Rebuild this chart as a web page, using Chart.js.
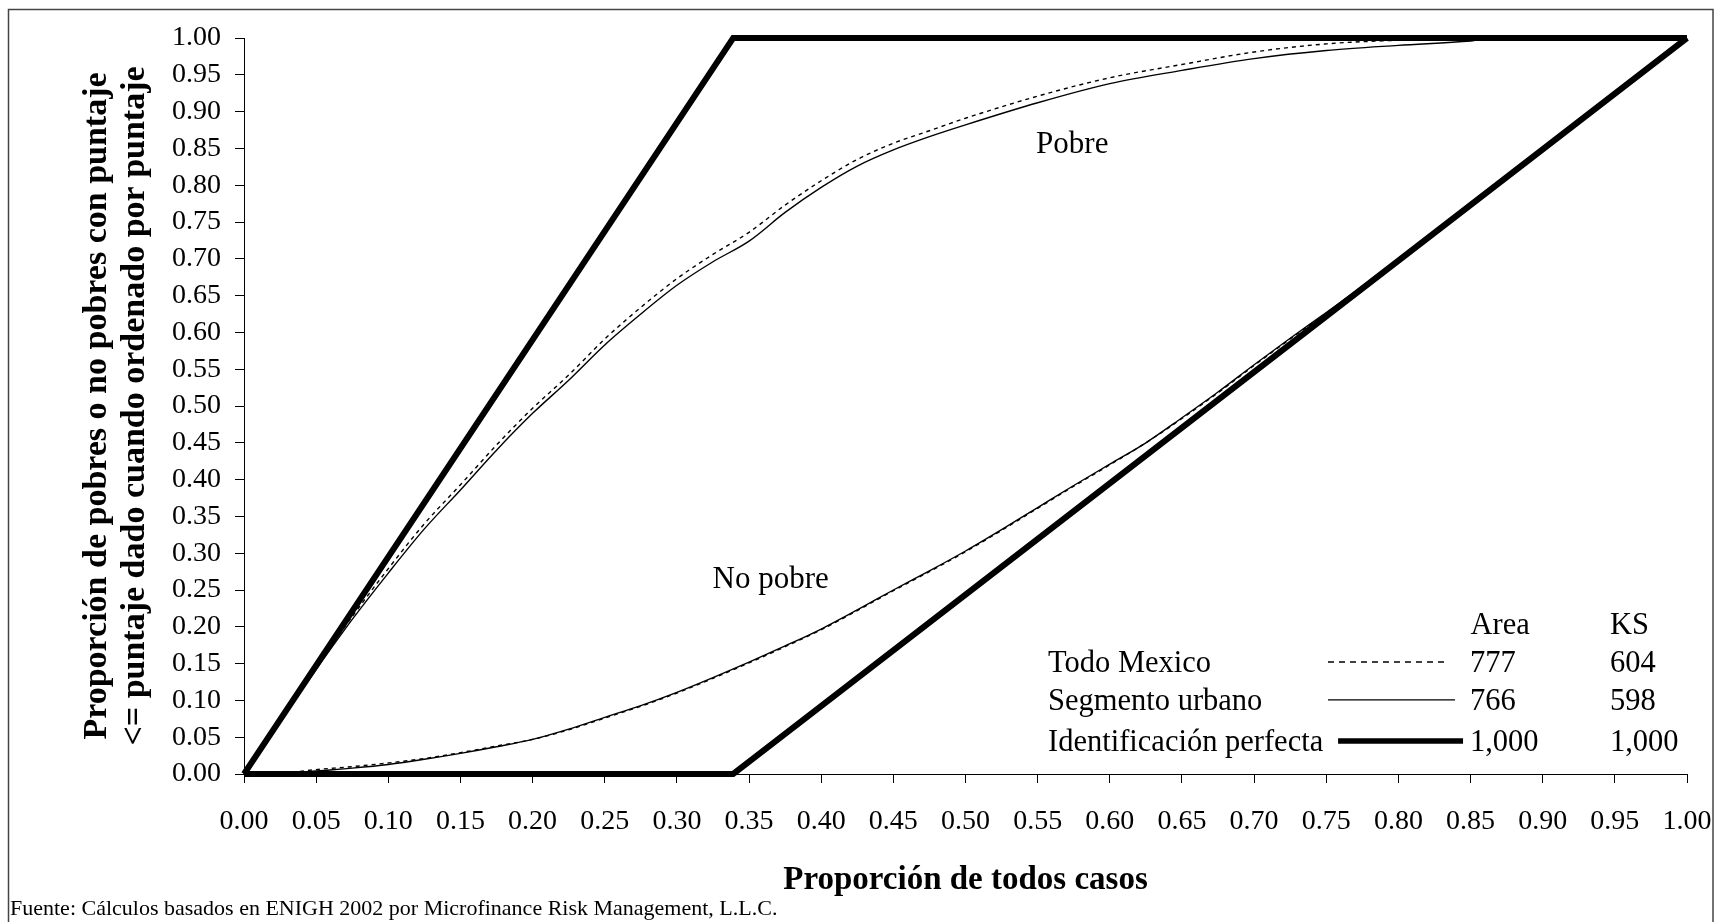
<!DOCTYPE html>
<html lang="es">

<head>
    <meta charset="UTF-8" />
    <title>Proporción de todos casos</title>
    <script src="https://cdn.jsdelivr.net/npm/chart.js@4.4.1/dist/chart.umd.min.js"></script>
    <style>
        html, body { margin: 0; padding: 0; background: #fff; overflow: hidden; }
        canvas { display: block; }
    </style>
</head>

<body>

    <canvas id="chart" width="1715" height="922"></canvas>

    <script>
        // curves
        const xPobre = [0, 0.02, 0.05, 0.075, 0.10, 0.125, 0.15, 0.175, 0.20, 0.225, 0.25, 0.275, 0.30, 0.325, 0.35, 0.375,
            0.40, 0.425, 0.45, 0.475, 0.50, 0.55, 0.60, 0.65, 0.70, 0.75, 0.80, 0.85, 0.87, 0.90, 0.95, 1.0];
        const pobreUrbano = [0, 0.057, 0.142, 0.21, 0.273, 0.333, 0.386, 0.44, 0.49, 0.535, 0.583, 0.625, 0.664, 0.696, 0.724, 0.763,
            0.797, 0.826, 0.848, 0.866, 0.882, 0.912, 0.938, 0.956, 0.972, 0.983, 0.99, 0.996, 1.0, 1.0, 1.0, 1.0];
        const pobreTodo = [0, 0.058, 0.145, 0.214, 0.279, 0.34, 0.393, 0.447, 0.497, 0.542, 0.591, 0.634, 0.673, 0.706, 0.736, 0.773,
            0.806, 0.835, 0.857, 0.874, 0.891, 0.921, 0.946, 0.964, 0.981, 0.992, 0.997, 1.0, 1.0, 1.0, 1.0, 1.0];

        const xNoPobre = [0, 0.03, 0.05, 0.075, 0.10, 0.125, 0.15, 0.175, 0.20, 0.225, 0.25, 0.275, 0.30, 0.325, 0.35, 0.375,
            0.40, 0.425, 0.45, 0.475, 0.50, 0.525, 0.55, 0.575, 0.60, 0.625, 0.65, 0.675, 0.70, 0.725, 0.75, 0.80, 0.85, 0.90, 0.95, 1.0];
        const noPobreUrbano = [0, 0.001, 0.004, 0.008, 0.013, 0.02, 0.028, 0.037, 0.047, 0.061, 0.077, 0.093, 0.111, 0.131, 0.152, 0.174,
            0.197, 0.223, 0.25, 0.276, 0.303, 0.332, 0.362, 0.392, 0.421, 0.45, 0.484, 0.519, 0.556, 0.592, 0.627, 0.699, 0.774, 0.849, 0.925, 1.0];
        const noPobreTodo = [0, 0.002, 0.006, 0.01, 0.015, 0.021, 0.029, 0.038, 0.047, 0.06, 0.076, 0.092, 0.11, 0.13, 0.151, 0.173,
            0.196, 0.222, 0.249, 0.275, 0.302, 0.331, 0.361, 0.391, 0.42, 0.45, 0.483, 0.518, 0.555, 0.591, 0.626, 0.699, 0.774, 0.849, 0.925, 1.0];

        // perfect identification
        const xPerfecto = [0, 0.339, 1];
        const perfectoPobre = [0, 1, 1];
        const perfectoNoPobre = [0, 0, 1];

        // legend table
        const legendLabels = ['Todo Mexico', 'Segmento urbano', 'Identificación perfecta'];
        const areaValues = ['777', '766', '1,000'];
        const ksValues = ['604', '598', '1,000'];

        const SERIF = '"Liberation Serif", "Times New Roman", serif';
        const footerText = 'Fuente: Cálculos basados en ENIGH 2002 por Microfinance Risk Management, L.L.C.';

        function pts(xs, ys) {
            return xs.map((x, i) => ({ x: x, y: ys[i] }));
        }

        function thin(label, xs, ys, dash) {
            return {
                label: label,
                data: pts(xs, ys),
                borderColor: '#000',
                borderWidth: 1.4,
                borderDash: dash,
                pointRadius: 0,
                cubicInterpolationMode: 'monotone',
                fill: false,
                clip: false
            };
        }

        function thick(xs, ys) {
            return {
                label: 'Identificación perfecta',
                data: pts(xs, ys),
                borderColor: '#000',
                borderWidth: 6,
                pointRadius: 0,
                tension: 0,
                fill: false,
                clip: false
            };
        }

        // the scales add label overflow + tick padding on their own; the layout padding does it instead
        function noOverflow(scale) {
            scale.paddingLeft = 0;
            scale.paddingRight = 0;
            scale.paddingTop = 0;
            scale.paddingBottom = 0;
        }

        const framePlugin = {
            id: 'frame',
            beforeDraw(chart) {
                const ctx = chart.ctx;
                ctx.save();
                ctx.fillStyle = '#fff';
                ctx.fillRect(0, 0, chart.width, chart.height);
                ctx.strokeStyle = '#444';
                ctx.lineWidth = 1.5;
                ctx.strokeRect(8.5, 9.5, chart.width - 10.5, chart.height + 20);
                ctx.restore();
            }
        };

        const textPlugin = {
            id: 'texts',
            afterDraw(chart) {
                const ctx = chart.ctx;
                const xs = chart.scales.x, ys = chart.scales.y;
                const px = v => xs.getPixelForValue(v);
                const py = v => ys.getPixelForValue(v);
                ctx.save();
                ctx.fillStyle = '#000';
                ctx.textBaseline = 'middle';
                ctx.font = '31px ' + SERIF;

                // curve names
                ctx.textAlign = 'center';
                ctx.fillText('Pobre', px(0.574), py(0.855));
                ctx.fillText('No pobre', px(0.365), py(0.264));

                // legend table
                ctx.font = '30.5px ' + SERIF;
                ctx.textAlign = 'left';
                ctx.fillText('Area', px(0.85), py(0.201));
                ctx.fillText('KS', px(0.9466), py(0.201));
                const rowY = [0.1495, 0.098, 0.042];
                const lineSpan = [[0.7512, 0.8344], [0.7512, 0.8392], [0.7582, 0.8448]];
                const lineW = [1.4, 1.4, 5.5];
                const lineDash = [[6, 5], [], []];
                legendLabels.forEach((name, i) => {
                    const y = py(rowY[i]);
                    ctx.fillText(name, px(0.5572), y);
                    ctx.fillText(areaValues[i], px(0.8496), y);
                    ctx.fillText(ksValues[i], px(0.9466), y);
                    ctx.beginPath();
                    ctx.setLineDash(lineDash[i]);
                    ctx.lineWidth = lineW[i];
                    ctx.strokeStyle = '#000';
                    ctx.moveTo(px(lineSpan[i][0]), y - 2);
                    ctx.lineTo(px(lineSpan[i][1]), y - 2);
                    ctx.stroke();
                });
                ctx.setLineDash([]);

                // source note
                ctx.font = '22px ' + SERIF;
                ctx.fillText(footerText, 10, chart.height - 13);
                ctx.restore();
            }
        };

        chartIt();
        function chartIt() {
            const ctx = document.getElementById('chart').getContext('2d');

            const myChart = new Chart(ctx, {
                type: 'line',
                data: {
                    datasets: [
                        thick(xPerfecto, perfectoPobre),
                        thick(xPerfecto, perfectoNoPobre),
                        thin('Todo Mexico', xPobre, pobreTodo, [4, 4]),
                        thin('Segmento urbano', xPobre, pobreUrbano, []),
                        thin('Todo Mexico', xNoPobre, noPobreTodo, [4, 4]),
                        thin('Segmento urbano', xNoPobre, noPobreUrbano, [])
                    ]
                },
                options: {
                    responsive: false,
                    animation: false,
                    layout: { padding: { top: 38, right: 28, bottom: 0, left: 0 } },
                    plugins: {
                        legend: { display: false },
                        tooltip: { enabled: false }
                    },
                    scales: {
                        x: {
                            type: 'linear',
                            min: 0,
                            max: 1,
                            afterFit(scale) { scale.height = 148; noOverflow(scale); },
                            ticks: {
                                stepSize: 0.05,
                                padding: 22,
                                color: '#000',
                                maxRotation: 0,
                                autoSkip: false,
                                font: { family: SERIF, size: 28 },
                                callback: v => v.toFixed(2)
                            },
                            grid: { drawOnChartArea: false, drawTicks: true, tickLength: 9, tickColor: '#000' },
                            border: { display: true, color: '#000', width: 1 },
                            title: {
                                display: true,
                                text: 'Proporción de todos casos',
                                color: '#000',
                                font: { family: SERIF, size: 33, weight: 'bold', lineHeight: 1.15 },
                                padding: { top: 0, bottom: 23 }
                            }
                        },
                        y: {
                            type: 'linear',
                            min: 0,
                            max: 1,
                            afterFit(scale) { scale.width = 244; noOverflow(scale); },
                            ticks: {
                                stepSize: 0.05,
                                padding: 14,
                                color: '#000',
                                autoSkip: false,
                                font: { family: SERIF, size: 28 },
                                callback: v => v.toFixed(2)
                            },
                            grid: { drawOnChartArea: false, drawTicks: true, tickLength: 9, tickColor: '#000' },
                            border: { display: true, color: '#000', width: 1 },
                            title: {
                                display: true,
                                text: ['Proporción de pobres o no pobres con puntaje',
                                    '<= puntaje dado cuando ordenado por puntaje'],
                                color: '#000',
                                font: { family: SERIF, size: 34, weight: 'bold', lineHeight: 1.12 },
                                padding: { top: 78, bottom: 0 }
                            }
                        }
                    }
                },
                plugins: [framePlugin, textPlugin]
            });
        }
    </script>
</body>

</html>
